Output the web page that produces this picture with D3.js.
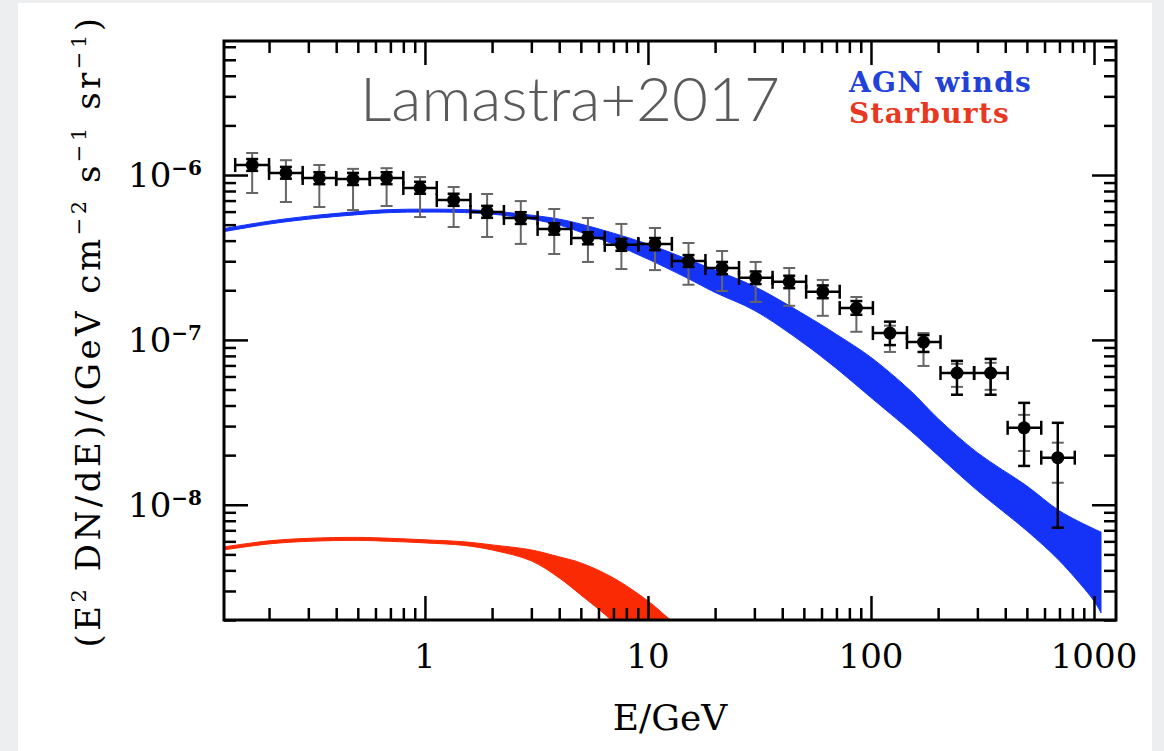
<!DOCTYPE html>
<html>
<head>
<meta charset="utf-8">
<script src="https://cdn.jsdelivr.net/npm/d3@7"></script>
<style>
html,body{margin:0;padding:0;background:#eceef0;}
svg{display:block;}
</style>
</head>
<body>
<svg id="chart" width="1164" height="751"></svg>
<script>
// Fermi IGRB points, E in GeV, flux in GeV cm^-2 s^-1 sr^-1
const energy = [0.168, 0.238, 0.336, 0.476, 0.673, 0.951, 1.345, 1.90, 2.69, 3.80, 5.38, 7.60, 10.75,
  15.2, 21.5, 30.4, 43.0, 60.8, 86.0, 121.6, 172, 243, 344, 486, 688];
const binEdges = [0.141, 0.2, 0.283, 0.4, 0.566, 0.8, 1.13, 1.6, 2.26, 3.2, 4.53, 6.4, 9.05, 12.8,
  18.1, 25.6, 36.2, 51.2, 72.4, 102, 145, 205, 290, 410, 580, 820];
const flux = [1.15e-6, 1.03e-6, 9.6e-7, 9.45e-7, 9.6e-7, 8.34e-7, 7.05e-7, 5.97e-7, 5.49e-7, 4.71e-7,
  4.15e-7, 3.77e-7, 3.82e-7, 3.01e-7, 2.73e-7, 2.38e-7, 2.25e-7, 1.96e-7, 1.56e-7, 1.10e-7,
  9.7e-8, 6.3e-8, 6.3e-8, 2.93e-8, 1.93e-8];
// systematic (grey) and statistical (black) bars
const sysHi = [1.36e-6, 1.23e-6, 1.15e-6, 1.09e-6, 1.10e-6, 9.72e-7, 8.46e-7, 7.67e-7, 6.95e-7, 6.22e-7,
  5.49e-7, 5.05e-7, 4.77e-7, 3.87e-7, 3.46e-7, 2.97e-7, 2.73e-7, 2.31e-7, 1.82e-7, 1.22e-7,
  1.10e-7, 7.16e-8, 7.26e-8, 3.51e-8, 2.38e-8];
const sysLo = [7.78e-7, 6.86e-7, 6.40e-7, 6.13e-7, 6.49e-7, 5.56e-7, 4.84e-7, 4.21e-7, 3.82e-7, 3.32e-7,
  2.97e-7, 2.69e-7, 2.65e-7, 2.16e-7, 1.98e-7, 1.70e-7, 1.61e-7, 1.40e-7, 1.12e-7, 8.45e-8,
  6.95e-8, 5.19e-8, 4.98e-8, 2.12e-8, 1.36e-8];
const statHi = [1.25e-6, 1.12e-6, 1.04e-6, 1.03e-6, 1.04e-6, 9.1e-7, 7.7e-7, 6.5e-7, 5.95e-7, 5.1e-7,
  4.5e-7, 4.1e-7, 4.15e-7, 3.27e-7, 2.97e-7, 2.6e-7, 2.45e-7, 2.14e-7, 1.72e-7, 1.29e-7,
  1.07e-7, 7.46e-8, 7.67e-8, 4.15e-8, 3.14e-8];
const statLo = [1.06e-6, 9.5e-7, 8.8e-7, 8.7e-7, 8.8e-7, 7.7e-7, 6.5e-7, 5.5e-7, 5.05e-7, 4.35e-7,
  3.8e-7, 3.47e-7, 3.5e-7, 2.77e-7, 2.5e-7, 2.18e-7, 2.06e-7, 1.79e-7, 1.42e-7, 9.3e-8,
  8.45e-8, 4.65e-8, 4.65e-8, 1.72e-8, 7.26e-9];

// AGN winds band
const agnE = [0.125, 0.2, 0.3, 0.5, 0.7, 1, 1.5, 2, 3, 4, 5, 7, 10, 15, 20, 30, 50, 70, 100, 150,
  200, 300, 500, 700, 1000, 1075];
const agnHi = [4.73e-7, 5.25e-7, 5.63e-7, 6.00e-7, 6.17e-7, 6.21e-7, 6.17e-7, 6.04e-7, 5.71e-7, 5.40e-7,
  5.04e-7, 4.44e-7, 3.81e-7, 3.09e-7, 2.65e-7, 2.11e-7, 1.43e-7, 1.08e-7, 7.83e-8, 4.93e-8,
  3.33e-8, 2.07e-8, 1.30e-8, 9.19e-9, 7.14e-9, 6.85e-9];
const agnLo = [4.53e-7, 5.04e-7, 5.40e-7, 5.75e-7, 5.92e-7, 5.96e-7, 5.92e-7, 5.79e-7, 5.40e-7, 4.97e-7,
  4.50e-7, 3.81e-7, 3.09e-7, 2.37e-7, 1.94e-7, 1.51e-7, 9.52e-8, 6.71e-8, 4.47e-8, 2.82e-8,
  1.99e-8, 1.22e-8, 6.95e-9, 4.57e-9, 2.61e-9, 2.21e-9];

// Starburst band
const sbE = [0.125, 0.2, 0.3, 0.5, 0.7, 1, 1.5, 2, 3, 4, 5, 7, 10, 13, 15];
const sbHi = [5.55e-9, 6.04e-9, 6.26e-9, 6.34e-9, 6.26e-9, 6.13e-9, 5.96e-9, 5.71e-9, 5.32e-9, 4.83e-9,
  4.44e-9, 3.60e-9, 2.61e-9, 1.94e-9, 1.71e-9];
const sbLo = [5.32e-9, 5.79e-9, 6.00e-9, 6.08e-9, 6.00e-9, 5.87e-9, 5.67e-9, 5.32e-9, 4.57e-9, 3.60e-9,
  2.84e-9, 1.94e-9, 1.13e-9, 7.4e-10, 6.5e-10];

const xLabels = [1, 10, 100, 1000];
const yLabels = [1e-8, 1e-7, 1e-6];
const yExp = ["\u22128", "\u22127", "\u22126"];

const svg = d3.select("#chart");
const serif = "'DejaVu Serif', serif";

svg.append("rect").attr("width", 1164).attr("height", 751).attr("fill", "#eceef0");
svg.append("rect").attr("x", 18).attr("y", 3).attr("width", 1134).attr("height", 748).attr("fill", "#fff");

const pLeft = 224, pRight = 1116, pTop = 41, pBottom = 620;
const x = d3.scaleLog().domain([0.1256, 1255]).range([pLeft, pRight]);
const y = d3.scaleLog().domain([2e-9, 6.5e-6]).range([pBottom, pTop]);

svg.append("clipPath").attr("id", "clip")
  .append("rect").attr("x", pLeft).attr("y", pTop).attr("width", pRight - pLeft).attr("height", pBottom - pTop);

const area = d3.area()
  .x(d => x(d[0])).y0(d => y(d[1])).y1(d => y(d[2]))
  .curve(d3.curveCatmullRom.alpha(0.5));

const plot = svg.append("g").attr("clip-path", "url(#clip)");
plot.append("path").datum(d3.zip(agnE, agnLo, agnHi)).attr("d", area)
  .attr("fill", "#1433f7").attr("stroke", "#1433f7").attr("stroke-width", 1);
plot.append("path").datum(d3.zip(sbE, sbLo, sbHi)).attr("d", area)
  .attr("fill", "#fa2a05").attr("stroke", "#fa2a05").attr("stroke-width", 1);

const pts = energy.map((e, i) => ({
  e: e, f: flux[i], x0: binEdges[i], x1: binEdges[i + 1],
  sHi: sysHi[i], sLo: sysLo[i], tHi: statHi[i], tLo: statLo[i]
}));

function vbar(g, key0, key1, color, w) {
  const sel = g.selectAll(null).data(pts).enter();
  sel.append("line")
    .attr("x1", d => x(d.e)).attr("x2", d => x(d.e))
    .attr("y1", d => y(d[key0])).attr("y2", d => y(d[key1]))
    .attr("stroke", color).attr("stroke-width", w);
  [key0, key1].forEach(k => {
    sel.append("line")
      .attr("x1", d => x(d.e) - 6).attr("x2", d => x(d.e) + 6)
      .attr("y1", d => y(d[k])).attr("y2", d => y(d[k]))
      .attr("stroke", color).attr("stroke-width", w);
  });
}

const dataG = svg.append("g");
vbar(dataG, "sHi", "sLo", "#666", 2);
vbar(dataG, "tHi", "tLo", "#000", 2.5);

const xb = dataG.selectAll(null).data(pts).enter();
xb.append("line")
  .attr("x1", d => x(d.x0)).attr("x2", d => x(d.x1))
  .attr("y1", d => y(d.f)).attr("y2", d => y(d.f))
  .attr("stroke", "#000").attr("stroke-width", 2.5);
["x0", "x1"].forEach(k => {
  xb.append("line")
    .attr("x1", d => x(d[k])).attr("x2", d => x(d[k]))
    .attr("y1", d => y(d.f) - 7).attr("y2", d => y(d.f) + 7)
    .attr("stroke", "#000").attr("stroke-width", 2.5);
});
dataG.selectAll("circle").data(pts).enter().append("circle")
  .attr("cx", d => x(d.e)).attr("cy", d => y(d.f)).attr("r", 6.5).attr("fill", "#000");

// ticks on all four sides, pointing in
const isMajor = v => Math.abs(Math.log10(v) - Math.round(Math.log10(v))) < 1e-6;
const xMinor = x.ticks().filter(v => !isMajor(v));
const yMinor = y.ticks().filter(v => !isMajor(v));

function addTicks(axis, tr, vals, len) {
  const g = svg.append("g").attr("transform", tr)
    .call(axis.tickValues(vals).tickSize(-len).tickFormat(""));
  g.select(".domain").remove();
  g.selectAll("line").attr("stroke", "#000").attr("stroke-width", 2.5);
}
addTicks(d3.axisBottom(x), `translate(0,${pBottom})`, xMinor, 12);
addTicks(d3.axisBottom(x), `translate(0,${pBottom})`, xLabels, 24);
addTicks(d3.axisTop(x), `translate(0,${pTop})`, xMinor, 12);
addTicks(d3.axisTop(x), `translate(0,${pTop})`, xLabels, 24);
addTicks(d3.axisLeft(y), `translate(${pLeft},0)`, yMinor, 12);
addTicks(d3.axisLeft(y), `translate(${pLeft},0)`, yLabels, 24);
addTicks(d3.axisRight(y), `translate(${pRight},0)`, yMinor, 12);
addTicks(d3.axisRight(y), `translate(${pRight},0)`, yLabels, 24);

svg.append("rect").attr("x", pLeft).attr("y", pTop)
  .attr("width", pRight - pLeft).attr("height", pBottom - pTop)
  .attr("fill", "none").attr("stroke", "#000").attr("stroke-width", 3);

// tick labels
svg.selectAll(".xl").data(xLabels).enter().append("text")
  .attr("x", d => x(d)).attr("y", 668)
  .attr("text-anchor", "middle").attr("font-family", serif).attr("font-size", 34)
  .text(d => d);

const yl = svg.selectAll(".yl").data(yLabels).enter().append("text")
  .attr("x", 202).attr("y", d => y(d) + 12)
  .attr("text-anchor", "end").attr("font-family", serif).attr("font-size", 34);
yl.append("tspan").text("10");
yl.append("tspan").attr("dy", -12).attr("font-size", 20).attr("font-weight", "bold")
  .text((d, i) => yExp[i]);

// axis titles
svg.append("text").attr("x", 670).attr("y", 730)
  .attr("text-anchor", "middle").attr("font-family", serif).attr("font-size", 36)
  .text("E/GeV");

const yt = svg.append("text")
  .attr("transform", "translate(100,331) rotate(-90)")
  .attr("text-anchor", "middle").attr("font-family", serif).attr("font-size", 34)
  .attr("letter-spacing", 3.5);
[["(E", 0], ["2", 1], [" DN/dE)/(GeV cm", 0], ["\u22122", 1], [" s", 0], ["\u22121", 1],
 [" sr", 0], ["\u22121", 1], [")", 0]].forEach(([t, sup], i, arr) => {
  const ts = yt.append("tspan").text(t);
  if (sup) ts.attr("dy", -14).attr("font-size", 21);
  else if (i > 0 && arr[i - 1][1]) ts.attr("dy", 14);
});

// title and legend
svg.append("text").attr("x", 360).attr("y", 121)
  .attr("font-family", "'Lato Light', Lato, 'Open Sans', sans-serif").attr("font-weight", 300)
  .attr("font-size", 62).attr("fill", "#5a5a5a")
  .text("Lamastra+2017");

svg.append("text").attr("x", 849).attr("y", 92)
  .attr("font-family", serif).attr("font-size", 28).attr("font-weight", "bold")
  .attr("letter-spacing", 1.3)
  .attr("fill", "#2141d8").text("AGN winds");
svg.append("text").attr("x", 849).attr("y", 123)
  .attr("font-family", serif).attr("font-size", 28).attr("font-weight", "bold")
  .attr("letter-spacing", 1.3)
  .attr("fill", "#e8381f").text("Starburts");
</script>
</body>
</html>
